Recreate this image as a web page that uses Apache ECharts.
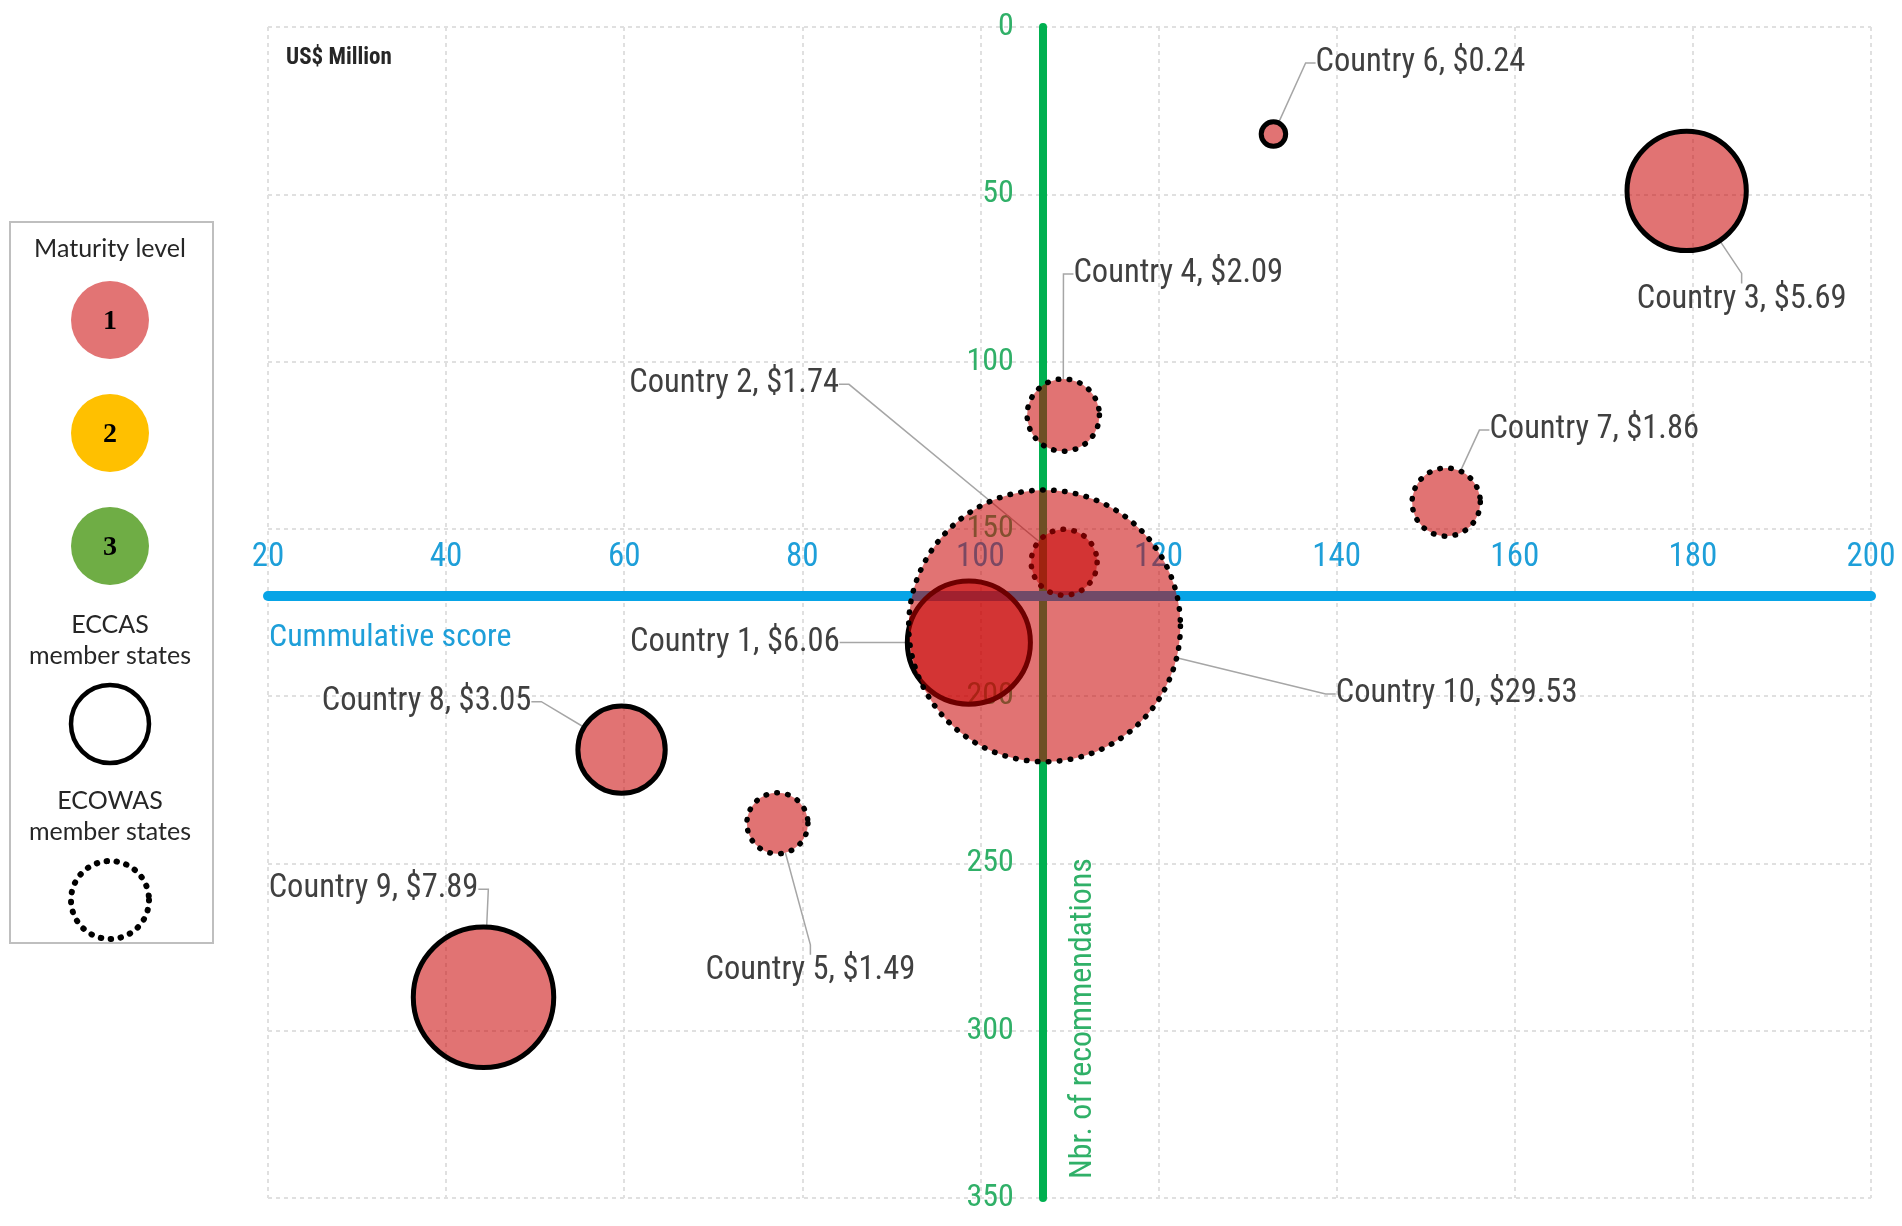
<!DOCTYPE html>
<html><head><meta charset="utf-8">
<script src="https://cdn.jsdelivr.net/npm/echarts@6/dist/echarts.min.js"></script>
<style>html,body{margin:0;padding:0;background:#fff}#c{width:1902px;height:1226px}</style>
</head><body><div id="c"></div>
<script>
// ---------------- data ----------------
const countries = ['Country 1','Country 2','Country 3','Country 4','Country 5','Country 6','Country 7','Country 8','Country 9','Country 10'];
const cumulativeScore = [98.7, 109.4, 179.3, 109.3, 77.2, 132.9, 152.3, 59.7, 44.2, 107.2];
const recommendations = [184, 160, 49, 116, 238, 32, 142, 216, 290, 179];
const fundingMillion = [6.06, 1.74, 5.69, 2.09, 1.49, 0.24, 1.86, 3.05, 7.89, 29.53];
const memberOf = ['ECCAS','ECOWAS','ECCAS','ECOWAS','ECOWAS','ECCAS','ECOWAS','ECCAS','ECCAS','ECOWAS'];
const maturityLevel = [1,1,1,1,1,1,1,1,1,1];
const communities = ['ECCAS', 'ECOWAS'];
const maturityLevels = [1, 2, 3];
const xRange = [20, 200], xStep = 20;
const yRange = [0, 350], yStep = 50;
const axisCross = [107, 170];   // where the two axes cross (score, recommendations)
const xAxisTitle = 'Cummulative score';
const yAxisTitle = 'Nbr. of recommendations';
const unitTitle = 'US$ Million';

// ---------------- styles ----------------
const NARROW = "'Roboto Condensed','Liberation Sans',sans-serif";
const labelOffset = [[-234,0],[-330,-178],[55,109],[115,-141],[33,148],[147,-71],[148,-72],[-195,-48],[-110,-108],[412,68]];
const maturityColor = {1:'rgba(200,0,0,0.55)', 2:'#FFC000', 3:'#70AD47'};
const legendColor = {1:'#E27474', 2:'#FFC000', 3:'#6FAD45'};
const sizeK = 50;

const idxMap = communities.map(c => countries.map((n,i)=>i).filter(i => memberOf[i] === c));

const series = communities.map((c, si) => ({
  type: 'scatter', name: c, xAxisIndex: 0, yAxisIndex: 0, z: 3,
  symbol: 'circle',
  symbolSize: v => sizeK * Math.sqrt(v[2]),
  data: idxMap[si].map(i => ({
    name: countries[i],
    value: [cumulativeScore[i], recommendations[i], fundingMillion[i]],
    itemStyle: {color: maturityColor[maturityLevel[i]]}
  })),
  itemStyle: {
    opacity: 1, borderColor: '#000', borderWidth: c === 'ECCAS' ? 5 : 5.5,
    borderType: c === 'ECCAS' ? 'solid' : [0.5, 10.5], borderCap: 'round'
  },
  label: {
    show: true, position: 'inside',
    formatter: p => p.name + ', $' + p.value[2].toFixed(2),
    color: '#404040', fontSize: 32.5, fontFamily: NARROW, textBorderWidth: 0
  },
  labelLine: {show: true, length2: 10, lineStyle: {color: '#A6A6A6', width: 1.5}},
  labelLayout: p => {
    const i = idxMap[p.seriesIndex][p.dataIndex];
    return {dx: labelOffset[i][0], dy: labelOffset[i][1]};
  },
  emphasis: {disabled: true}
}));

const gridSplit = {show: true, lineStyle: {type: [4, 4], color: '#E0E0E0', width: 2}};

const option = {
  animation: false,
  backgroundColor: '#fff',
  title: {text: unitTitle, left: 281, top: 42,
    textStyle: {fontSize: 23, fontWeight: 'bold', fontFamily: NARROW, color: '#262626'}},
  grid: {left: 268, right: 31, top: 27, bottom: 28, containLabel: false, outerBoundsMode: 'none'},
  xAxis: [
    {type: 'value', position: 'bottom', min: xRange[0], max: xRange[1], interval: xStep,
     axisLine: {show: false}, axisTick: {show: false}, axisLabel: {show: false}, splitLine: gridSplit},
    {type: 'value', position: 'top', min: xRange[0], max: xRange[1], interval: xStep, offset: 0,
     axisLine: {show: true, lineStyle: {color: '#08A4E6', width: 10}}, axisTick: {show: false},
     axisLabel: {show: true, margin: 22, color: '#1E9FD9', fontSize: 33, fontFamily: NARROW, showMinLabel: true, showMaxLabel: true},
     splitLine: {show: false}}
  ],
  yAxis: [
    {type: 'value', position: 'right', inverse: true, min: yRange[0], max: yRange[1], interval: yStep,
     axisLine: {show: false}, axisTick: {show: false}, axisLabel: {show: false}, splitLine: gridSplit},
    {type: 'value', position: 'left', inverse: true, min: yRange[0], max: yRange[1], interval: yStep, offset: 0,
     axisLine: {show: true, lineStyle: {color: '#00B050', width: 8}}, axisTick: {show: false},
     axisLabel: {show: true, margin: 29, color: '#30B068', fontSize: 32, fontFamily: NARROW, showMinLabel: true, showMaxLabel: true},
     splitLine: {show: false}}
  ],
  series: series
};

const chart = echarts.init(document.getElementById('c'), null, {renderer: 'canvas'});
chart.setOption(option);

// place the crossing axes using the chart's own scales
const origin = chart.convertToPixel({gridIndex: 0}, [xRange[0], yRange[0]]);
const far = chart.convertToPixel({gridIndex: 0}, [xRange[1], yRange[1]]);
const cross = chart.convertToPixel({gridIndex: 0}, axisCross);

// legend drawing
const LX = 110;
const legendFont = "Lato, 'Open Sans', sans-serif";
const legendEls = [
  {type: 'rect', shape: {x: 10, y: 222, width: 203, height: 721}, style: {fill: '#fff', stroke: '#BFBFBF', lineWidth: 2}},
  {type: 'text', x: LX, y: 249, style: {text: 'Maturity level', fill: '#262626', fontSize: 25, fontFamily: legendFont, align: 'center', verticalAlign: 'middle'}}
];
maturityLevels.forEach((m, k) => {
  const cy = 320 + k * 113;
  legendEls.push({type: 'circle', shape: {cx: LX, cy: cy, r: 39}, style: {fill: legendColor[m]}});
  legendEls.push({type: 'text', x: LX, y: cy + 2, style: {text: String(m), fill: '#000', fontSize: 28, fontWeight: 'bold', fontFamily: "'Liberation Serif','DejaVu Serif',serif", align: 'center', verticalAlign: 'middle'}});
});
communities.forEach((c, k) => {
  const top = 625 + k * 176;
  legendEls.push({type: 'text', x: LX, y: top, style: {text: c, fill: '#262626', fontSize: 25, fontFamily: legendFont, align: 'center', verticalAlign: 'middle'}});
  legendEls.push({type: 'text', x: LX, y: top + 31, style: {text: 'member states', fill: '#262626', fontSize: 25, fontFamily: legendFont, align: 'center', verticalAlign: 'middle'}});
  legendEls.push({type: 'circle', shape: {cx: LX, cy: top + 99, r: 39},
    style: c === 'ECCAS' ? {fill: 'none', stroke: '#000', lineWidth: 4.5}
                         : {fill: 'none', stroke: '#000', lineWidth: 6, lineDash: [0.5, 9.5], lineCap: 'round'}});
});

chart.setOption({
  xAxis: [{}, {offset: origin[1] - cross[1]}],
  yAxis: [{}, {offset: origin[0] - cross[0]}],
  graphic: [
    {type: 'text', x: origin[0] + 1, y: cross[1] + 42, z: 1,
     style: {text: xAxisTitle, fill: '#1E9FD9', fontSize: 32, fontFamily: NARROW, align: 'left', verticalAlign: 'middle'}},
    {type: 'text', x: cross[0] + 40, y: far[1] - 19, rotation: Math.PI / 2, z: 1,
     style: {text: yAxisTitle, fill: '#30B068', fontSize: 32, fontFamily: NARROW, align: 'left', verticalAlign: 'middle'}},
    {type: 'group', children: legendEls}
  ]
});
</script>
</body></html>
